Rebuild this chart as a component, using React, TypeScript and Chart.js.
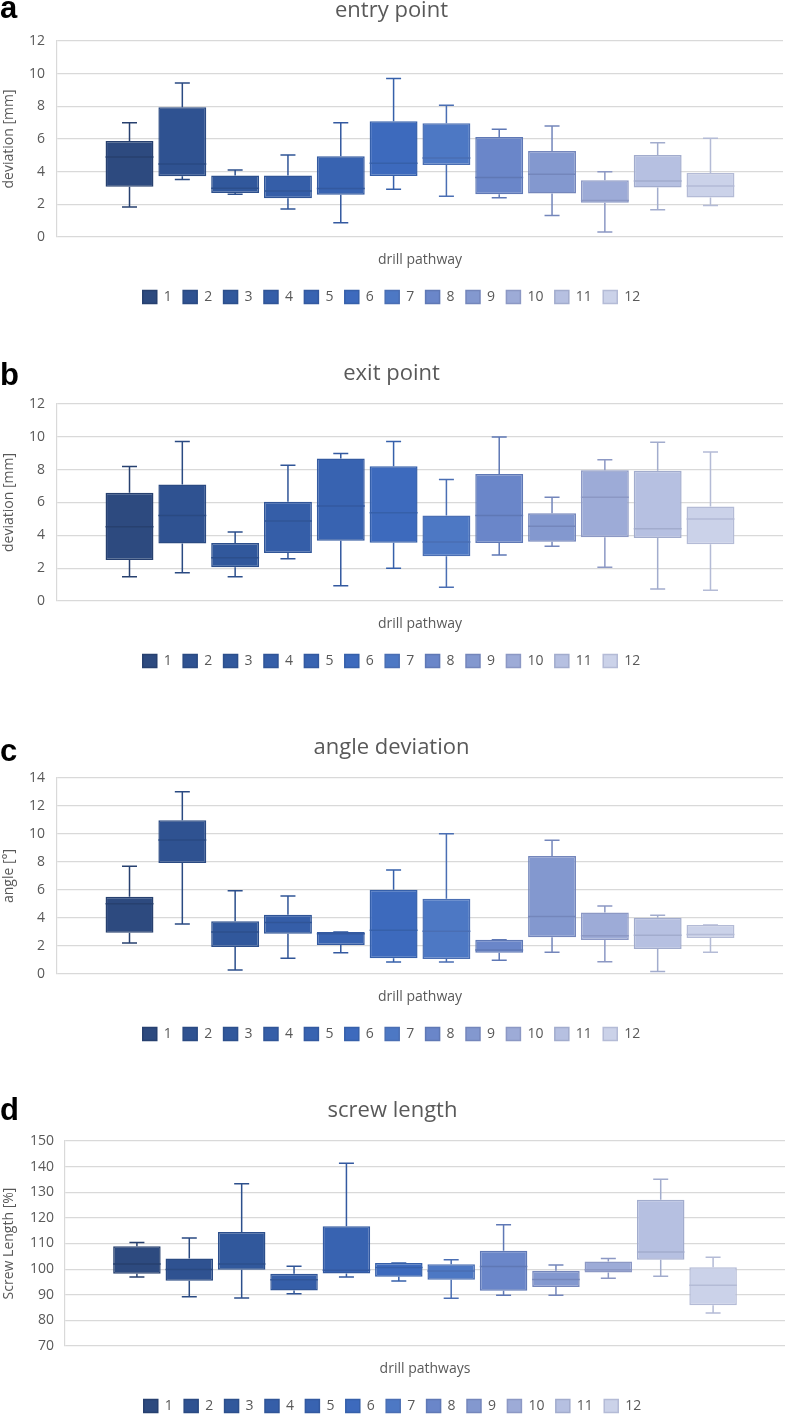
import React, { useEffect, useRef } from 'react';
import { Chart, registerables } from 'chart.js';

Chart.register(...registerables);

// ---------- data ----------
const pathways = ['1', '2', '3', '4', '5', '6', '7', '8', '9', '10', '11', '12'];

// a: entry point deviation [mm]
const entryMin = [1.83, 3.52, 2.62, 1.71, 0.87, 2.93, 2.5, 2.4, 1.32, 0.3, 1.67, 1.93];
const entryQ1 = [3.07, 3.72, 2.7, 2.38, 2.58, 3.74, 4.41, 2.62, 2.66, 2.09, 3.03, 2.42];
const entryMedian = [4.9, 4.47, 2.99, 2.82, 2.97, 4.51, 4.84, 3.64, 3.84, 2.24, 3.43, 3.13];
const entryQ3 = [5.87, 7.95, 3.76, 3.76, 4.94, 7.09, 6.97, 6.12, 5.26, 3.48, 5.02, 3.92];
const entryMax = [7.0, 9.43, 4.1, 5.02, 7.0, 9.7, 8.07, 6.59, 6.79, 4.0, 5.77, 6.05];

// b: exit point deviation [mm]
const exitMin = [1.48, 1.72, 1.48, 2.57, 0.93, 2.0, 0.83, 2.8, 3.34, 2.05, 0.73, 0.65];
const exitQ1 = [2.49, 3.51, 2.05, 2.92, 3.67, 3.55, 2.72, 3.53, 3.61, 3.89, 3.83, 3.45];
const exitMedian = [4.52, 5.21, 2.64, 4.87, 5.78, 5.37, 3.59, 5.21, 4.56, 6.32, 4.4, 4.99];
const exitQ3 = [6.59, 7.1, 3.53, 6.04, 8.68, 8.21, 5.21, 7.74, 5.35, 7.97, 7.93, 5.76];
const exitMax = [8.19, 9.71, 4.2, 8.27, 8.98, 9.71, 7.4, 9.99, 6.32, 8.6, 9.67, 9.08];

// c: angle deviation [°]
const angleMin = [2.21, 3.57, 0.29, 1.12, 1.52, 0.86, 0.86, 0.98, 1.55, 0.88, 0.17, 1.55];
const angleQ1 = [2.95, 7.93, 1.93, 2.88, 2.07, 1.12, 1.07, 1.52, 2.62, 2.43, 1.79, 2.57];
const angleMedian = [5.02, 9.57, 3.0, 3.67, 2.88, 3.12, 3.05, 1.71, 4.1, 2.74, 2.76, 2.83];
const angleQ3 = [5.52, 10.98, 3.76, 4.24, 3.0, 6.02, 5.38, 2.45, 8.43, 4.4, 4.02, 3.5];
const angleMax = [7.69, 13.02, 5.95, 5.57, 3.0, 7.43, 10.02, 2.45, 9.55, 4.86, 4.19, 3.5];

// d: screw length [%]
const screwMin = [96.9, 89.2, 88.7, 90.4, 96.9, 95.4, 88.6, 89.8, 89.8, 96.4, 97.2, 82.9];
const screwQ1 = [98.2, 95.5, 99.8, 91.7, 98.3, 97.0, 95.9, 91.6, 93.0, 98.7, 103.7, 85.9];
const screwMedian = [102.0, 99.9, 102.0, 95.9, 99.6, 100.6, 99.3, 101.0, 96.0, 99.8, 106.7, 93.7];
const screwQ3 = [108.9, 104.1, 114.5, 98.2, 116.7, 102.4, 101.9, 107.2, 99.4, 103.0, 127.1, 100.7];
const screwMax = [110.4, 112.1, 133.3, 101.1, 141.3, 102.4, 103.7, 117.3, 101.6, 104.1, 135.1, 104.6];

// ---------- styling ----------
const fills = ['#2d4a7f', '#2f5291', '#31589c', '#355ea8', '#3863b1', '#3d6abd', '#4d78c4', '#6a86c9', '#8398cf', '#9dabd7', '#b6c0e1', '#cbd2e9'];
const borders = ['#27406f', '#2a4a82', '#2c4f8c', '#305597', '#3359a0', '#3660aa', '#4a6eb3', '#5f78b5', '#7486bb', '#8c98c4', '#a2accd', '#b4bbd6'];

const FONT = '"Open Sans", "Noto Sans", sans-serif';
const TEXT = '#595959';
const GRID = '#d9d9d9';

type PanelDef = {
  letter: string;
  title: string;
  yTitle: string;
  xTitle: string;
  yMin: number;
  yMax: number;
  step: number;
  min: number[];
  q1: number[];
  median: number[];
  q3: number[];
  max: number[];
  canvasTop: number;
  plotH: number;
  yWidth: number;
  tickPad: number;
  padRight: number;
  letterTop: number;
};

const panels: PanelDef[] = [
  { letter: 'a', title: 'entry point', yTitle: 'deviation [mm]', xTitle: 'drill pathway', yMin: 0, yMax: 12, step: 2,
    min: entryMin, q1: entryQ1, median: entryMedian, q3: entryQ3, max: entryMax,
    canvasTop: -3, plotH: 196, yWidth: 57, tickPad: 12, padRight: 3, letterTop: -8 },
  { letter: 'b', title: 'exit point', yTitle: 'deviation [mm]', xTitle: 'drill pathway', yMin: 0, yMax: 12, step: 2,
    min: exitMin, q1: exitQ1, median: exitMedian, q3: exitQ3, max: exitMax,
    canvasTop: 360, plotH: 197, yWidth: 57, tickPad: 12, padRight: 3, letterTop: 359 },
  { letter: 'c', title: 'angle deviation', yTitle: 'angle [°]', xTitle: 'drill pathway', yMin: 0, yMax: 14, step: 2,
    min: angleMin, q1: angleQ1, median: angleMedian, q3: angleQ3, max: angleMax,
    canvasTop: 734, plotH: 196, yWidth: 57, tickPad: 12, padRight: 3, letterTop: 735 },
  { letter: 'd', title: 'screw length', yTitle: 'Screw Length [%]', xTitle: 'drill pathways', yMin: 70, yMax: 150, step: 10,
    min: screwMin, q1: screwQ1, median: screwMedian, q3: screwQ3, max: screwMax,
    canvasTop: 1097, plotH: 205, yWidth: 65, tickPad: 11, padRight: 1, letterTop: 1094 },
];

// draws whiskers, caps and median lines using the bar elements and the y scale
const boxWhiskerPlugin = {
  id: 'boxWhiskers',
  afterDatasetsDraw(chart: any, _args: any, opts: any) {
    const { ctx } = chart;
    const y = chart.scales.y;
    const capHalf = 7.5;
    chart.data.datasets.forEach((ds: any, i: number) => {
      const meta = chart.getDatasetMeta(i);
      if (!chart.isDatasetVisible(i)) return;
      const bar = meta.data[0];
      if (!bar) return;
      const { x } = bar.getProps(['x'], true);
      const [lo, hi] = ds.data[0];
      const yMin = y.getPixelForValue(opts.min[i]);
      const yMax = y.getPixelForValue(opts.max[i]);
      const yQ1 = y.getPixelForValue(lo);
      const yQ3 = y.getPixelForValue(hi);
      const yMed = y.getPixelForValue(opts.median[i]);
      const half = bar.width / 2;
      ctx.save();
      ctx.strokeStyle = ds.borderColor;
      ctx.lineWidth = 1.5;
      ctx.beginPath();
      // upper whisker
      ctx.moveTo(x, yQ3);
      ctx.lineTo(x, yMax);
      ctx.moveTo(x - capHalf, yMax);
      ctx.lineTo(x + capHalf, yMax);
      // lower whisker
      ctx.moveTo(x, yQ1);
      ctx.lineTo(x, yMin);
      ctx.moveTo(x - capHalf, yMin);
      ctx.lineTo(x + capHalf, yMin);
      // median
      ctx.moveTo(x - half, yMed);
      ctx.lineTo(x + half, yMed);
      ctx.stroke();
      ctx.restore();
    });
  },
};

function makeConfig(p: PanelDef): any {
  const datasets = pathways.map((name, i) => ({
    label: name,
    data: [[p.q1[i], p.q3[i]]],
    backgroundColor: fills[i],
    borderColor: borders[i],
    borderWidth: 1.5,
    borderSkipped: false,
    categoryPercentage: 0.873,
    barPercentage: 0.907,
  }));
  return {
    type: 'bar',
    data: { labels: [''], datasets },
    plugins: [boxWhiskerPlugin],
    options: {
      animation: false,
      responsive: false,
      devicePixelRatio: 1,
      layout: { padding: { left: 0, right: p.padRight, top: 0, bottom: 0 } },
      plugins: {
        boxWhiskers: { min: p.min, median: p.median, max: p.max },
        tooltip: { enabled: false },
        title: {
          display: true,
          text: p.title,
          color: TEXT,
          font: { family: FONT, size: 22, weight: 'normal', lineHeight: 1.2 },
          padding: { top: 1.0, bottom: 16.6 },
        },
        legend: {
          display: true,
          position: 'bottom',
          labels: {
            color: TEXT,
            font: { family: FONT, size: 14 },
            boxWidth: 14,
            boxHeight: 13,
            padding: 11.4,
          },
        },
      },
      scales: {
        x: {
          display: true,
          grid: { display: false, drawTicks: false },
          border: { display: false },
          ticks: { display: false },
          title: {
            display: true,
            text: p.xTitle,
            color: TEXT,
            font: { family: FONT, size: 14, lineHeight: 1.2 },
            padding: { top: 14.6, bottom: 10.2 },
          },
        },
        y: {
          min: p.yMin,
          max: p.yMax,
          grid: { color: GRID, lineWidth: 1.2, drawTicks: false },
          border: { display: true, color: GRID, width: 1.2 },
          ticks: {
            stepSize: p.step,
            color: TEXT,
            padding: p.tickPad,
            font: { family: FONT, size: 14 },
          },
          title: {
            display: true,
            text: p.yTitle,
            color: TEXT,
            font: { family: FONT, size: 14, lineHeight: 1.2 },
            padding: { top: 1, bottom: 0 },
          },
          afterFit: (scale: any) => {
            scale.width = p.yWidth;
          },
        },
      },
    },
  };
}

function BoxPanel({ p }: { p: PanelDef }) {
  const ref = useRef<HTMLCanvasElement>(null);
  const canvasH = 44 + p.plotH + 41 + 36;
  useEffect(() => {
    if (!ref.current) return;
    const chart = new Chart(ref.current, makeConfig(p));
    return () => chart.destroy();
  }, []);
  return (
    <>
      <canvas
        ref={ref}
        width={786}
        height={canvasH}
        style={{ position: 'absolute', left: 0, top: p.canvasTop, width: 786, height: canvasH }}
      />
      <div
        style={{
          position: 'absolute',
          left: 0,
          top: p.letterTop,
          fontFamily: '"Liberation Sans", Arial, sans-serif',
          fontWeight: 'bold',
          fontSize: 31,
          lineHeight: '31px',
          color: '#000',
        }}
      >
        {p.letter}
      </div>
    </>
  );
}

export default function App() {
  return (
    <div
      style={{
        position: 'absolute',
        left: 0,
        top: 0,
        width: 786,
        height: 1416,
        overflow: 'hidden',
        background: '#fff',
      }}
    >
      {panels.map((p) => (
        <BoxPanel key={p.letter} p={p} />
      ))}
    </div>
  );
}
